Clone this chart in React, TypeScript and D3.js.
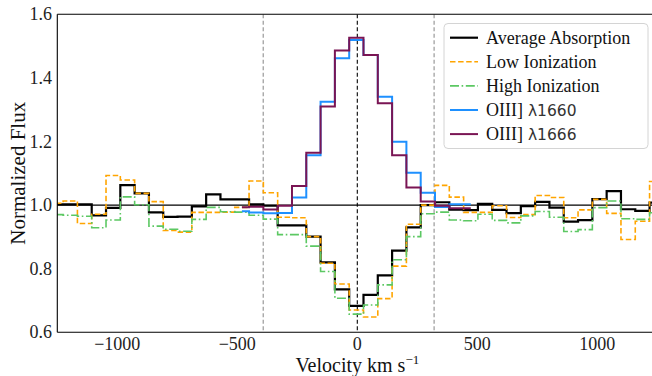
import React from 'react';
import * as d3 from 'd3';

// Velocity bin centres (km/s)
const velocity = [
  -1255.6, -1196, -1136.4, -1076.8, -1017.2, -957.6, -898, -838.4, -778.8, -719.2,
  -659.6, -600, -540.4, -480.8, -421.2, -361.6, -302, -242.4, -182.8, -123.2,
  -63.6, -4, 55.6, 115.2, 174.8, 234.4, 294, 353.6, 413.2, 472.8,
  532.4, 592, 651.6, 711.2, 770.8, 830.4, 890, 949.6, 1009.2, 1068.8,
  1128.4, 1188, 1247.6,
];

const averageAbsorption = [
  1.002, 1.002, 1.002, 0.968, 0.991, 1.063, 1.037, 0.977, 0.963, 0.964,
  0.996, 1.034, 1.018, 1.018, 1.002, 0.998, 0.936, 0.936, 0.901, 0.82,
  0.735, 0.683, 0.718, 0.779, 0.857, 0.93, 1.0, 1.009, 0.986, 0.984,
  1.004, 0.985, 0.975, 0.997, 1.01, 0.992, 0.948, 0.953, 1.019, 1.044,
  0.987, 0.982, 1.008,
];

const lowIonization = [
  1.006, 1.013, 0.942, 0.971, 1.093, 1.079, 1.037, 1.011, 0.92, 0.915,
  0.977, 0.977, 0.978, 0.993, 1.076, 1.039, 0.962, 0.96, 0.901, 0.817,
  0.752, 0.67, 0.648, 0.706, 0.808, 0.94, 1.0, 1.062, 1.025, 0.977,
  0.977, 0.998, 0.961, 0.97, 1.03, 1.024, 0.96, 0.985, 1.018, 0.974,
  0.892, 0.949, 1.074,
];

const highIonization = [
  0.97, 0.968, 0.965, 0.929, 0.953, 1.026, 1.001, 0.934, 0.924, 0.918,
  0.955, 0.993, 0.979, 0.978, 0.968, 0.956, 0.907, 0.907, 0.871, 0.791,
  0.707, 0.657, 0.686, 0.749, 0.828, 0.901, 0.973, 0.978, 0.953, 0.951,
  0.971, 0.952, 0.944, 0.966, 0.98, 0.962, 0.917, 0.923, 0.992, 1.013,
  0.957, 0.955, 0.976,
];

const oiiiVelocity = [
  -480.8, -421.2, -361.6, -302, -242.4, -182.8, -123.2, -63.6, -4, 55.6,
  115.2, 174.8, 234.4, 294, 353.6, 413.2, 472.8,
];
const oiii1660 = [
  0.981, 0.977, 0.974, 0.975, 1.024, 1.157, 1.325, 1.462, 1.519, 1.472,
  1.341, 1.199, 1.102, 1.039, 0.994, 1.003, 1.003,
];
const oiii1666 = [
  0.993, 0.995, 0.986, 0.998, 1.06, 1.165, 1.31, 1.486, 1.526, 1.472,
  1.32, 1.157, 1.055, 1.011, 0.998, 0.99, 0.99,
];

const xTicks = [-1000, -500, 0, 500, 1000];
const xTickLabels = ['\u22121000', '\u2212500', '0', '500', '1000'];
const yTicks = [0.6, 0.8, 1.0, 1.2, 1.4, 1.6];
const yTickLabels = ['0.6', '0.8', '1.0', '1.2', '1.4', '1.6'];
const regionEdges = [-392, 320];

const legendLabels = ['Average Absorption', 'Low Ionization', 'High Ionization', 'OIII]', 'OIII]'];
const legendLambda = ['', '', '', '\u03bb1660', '\u03bb1666'];

const C_BLACK = '#000000';
const C_ORANGE = '#FFA500';
const C_GREEN = '#5CC863';
const C_BLUE = '#1E90FF';
const C_PURPLE = '#7A1554';

export default function App() {
  const W = 652;
  const H = 376;
  const left = 57.3, right = 657.3, top = 14.3, bottom = 332.3;
  const x = d3.scaleLinear().domain([-1250, 1250]).range([left, right]);
  const y = d3.scaleLinear().domain([0.6, 1.6]).range([bottom, top]);

  const stepPath = (xs: number[], ys: number[]) =>
    d3
      .line<number>()
      .x((_, i) => x(xs[i]))
      .y((d) => y(d))
      .curve(d3.curveStep)(ys) || '';

  const font = '"Liberation Serif", "Times New Roman", serif';

  const series = [
    { d: stepPath(velocity, averageAbsorption), color: C_BLACK, w: 2.2, dash: undefined },
    { d: stepPath(velocity, lowIonization), color: C_ORANGE, w: 1.6, dash: '5.5,2.6' },
    { d: stepPath(velocity, highIonization), color: C_GREEN, w: 1.6, dash: '9,2.6,1.6,2.6' },
    { d: stepPath(oiiiVelocity, oiii1660), color: C_BLUE, w: 2, dash: undefined },
    { d: stepPath(oiiiVelocity, oiii1666), color: C_PURPLE, w: 2, dash: undefined },
  ];

  const legendColors = [C_BLACK, C_ORANGE, C_GREEN, C_BLUE, C_PURPLE];
  const legendWidths = [2.2, 1.6, 1.6, 2, 2];
  const legendDash = [undefined, '5.5,2.6', '9,2.6,1.6,2.6', undefined, undefined];

  return (
    <svg
      width={W}
      height={H}
      style={{ position: 'absolute', left: 0, top: 0, background: '#fff' }}
      xmlns="http://www.w3.org/2000/svg"
    >
      <defs>
        <clipPath id="plotClip">
          <rect x={left} y={top} width={right - left} height={bottom - top} />
        </clipPath>
      </defs>
      <rect x={0} y={0} width={W} height={H} fill="#fff" />

      <g clipPath="url(#plotClip)">
        {/* reference lines */}
        <line x1={left} x2={right} y1={y(1.0)} y2={y(1.0)} stroke="#000" strokeWidth={1.1} />
        {regionEdges.map((v) => (
          <line
            key={v}
            x1={x(v)}
            x2={x(v)}
            y1={top}
            y2={bottom}
            stroke="#999"
            strokeWidth={1.2}
            strokeDasharray="4,2.5"
          />
        ))}
        <line x1={x(0)} x2={x(0)} y1={top} y2={bottom} stroke="#000" strokeWidth={1.1} strokeDasharray="4,2.5" />

        {series.map((s, i) => (
          <path
            key={i}
            d={s.d}
            fill="none"
            stroke={s.color}
            strokeWidth={s.w}
            strokeDasharray={s.dash}
            strokeLinejoin="miter"
          />
        ))}
      </g>

      {/* spines */}
      <line x1={left} x2={left} y1={top} y2={bottom} stroke="#000" strokeWidth={1.1} />
      <line x1={left} x2={right} y1={top} y2={top} stroke="#000" strokeWidth={1.1} />
      <line x1={left} x2={right} y1={bottom} y2={bottom} stroke="#000" strokeWidth={1.1} />

      {/* y tick labels */}
      {yTicks.map((t, i) => (
        <text
          key={t}
          x={52}
          y={y(t) + 6}
          textAnchor="end"
          fontFamily={font}
          fontSize={18}
          fill="#222"
        >
          {yTickLabels[i]}
        </text>
      ))}
      {/* x tick labels */}
      {xTicks.map((t, i) => (
        <text
          key={t}
          x={x(t)}
          y={349.5}
          textAnchor="middle"
          fontFamily={font}
          fontSize={18}
          fill="#222"
        >
          {xTickLabels[i]}
        </text>
      ))}

      {/* axis labels */}
      <text
        transform={`translate(25,${(top + bottom) / 2}) rotate(-90)`}
        textAnchor="middle"
        fontFamily={font}
        fontSize={21}
        fill="#111"
      >
        Normalized Flux
      </text>
      <text x={(left + right) / 2} y={371.5} textAnchor="middle" fontFamily={font} fontSize={20} fill="#111">
        Velocity km s
        <tspan fontSize={13} dy={-8}>{'\u22121'}</tspan>
      </text>

      {/* legend */}
      <g>
        <rect x={444} y={23.5} width={204} height={125} rx={4} fill="#fff" fillOpacity={0.85} stroke="#d4d4d4" strokeWidth={1} />
        {legendLabels.map((lab, i) => {
          const cy = 37.7 + i * 24.1;
          return (
            <g key={i}>
              <line
                x1={450}
                x2={478}
                y1={cy}
                y2={cy}
                stroke={legendColors[i]}
                strokeWidth={legendWidths[i]}
                strokeDasharray={legendDash[i]}
              />
              <text x={486} y={cy + 6} fontFamily={font} fontSize={18} fill="#111">
                {lab}
                {legendLambda[i] ? (
                  <tspan fontFamily='"DejaVu Sans", sans-serif' fontSize={15.5} fill="#333">
                    {' ' + legendLambda[i]}
                  </tspan>
                ) : null}
              </text>
            </g>
          );
        })}
      </g>
    </svg>
  );
}
